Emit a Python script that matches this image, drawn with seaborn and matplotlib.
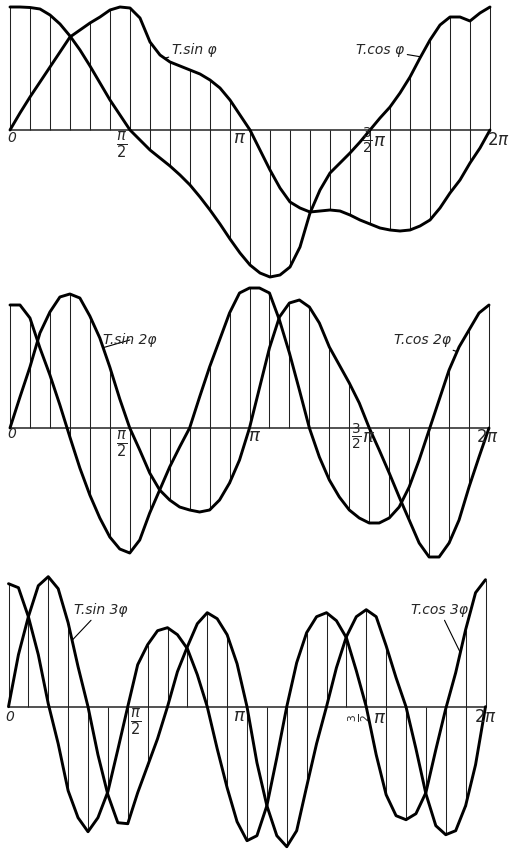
import numpy as np
import pandas as pd
import matplotlib
matplotlib.use("Agg")
import matplotlib.pyplot as plt
import seaborn as sns

# Crank angle of each ordinate (degrees), one every 7.5 degrees over a full turn
phi = np.arange(0, 361, 7.5)

# First harmonic: T.sin(phi) and T.cos(phi)
t_sin1 = [0, 17, 33, 48, 63, 78, 93, 100, 107, 113, 120, 123, 122, 112, 88, 75, 68,
          64, 60, 56, 50, 42, 30, 15, 0, -20, -40, -58, -72, -78, -82, -81, -80, -81,
          -85, -90, -94, -98, -100, -101, -100, -96, -90, -78, -63, -50, -33, -18, 0]
t_cos1 = [123, 123, 122.5, 121, 115, 106, 94, 80, 64, 47, 30, 15, 0, -10, -20, -28,
          -36, -45, -55, -67, -80, -94, -109, -123, -135, -143, -147, -145, -137, -117,
          -83, -60, -43, -33, -23, -12, 0, 12, 23, 37, 53, 72, 90, 105, 113, 113, 109,
          117, 123]

# Second harmonic: T.sin(2 phi) and T.cos(2 phi)
t_sin2 = [0, 31, 61, 95, 116, 131, 134, 130, 112, 90, 61, 29, 0, -22, -45, -62, -72,
          -79, -82, -84, -82, -72, -55, -32, 0, 40, 80, 111, 125, 128, 121, 105, 81, 63,
          45, 25, 0, -22, -45, -69, -92, -115, -129, -129, -115, -92, -59, -29, 0]
t_cos2 = [123, 123, 110, 80, 53, 23, -9, -40, -67, -90, -109, -121, -125, -112, -85,
          -62, -39, -19, 0, 31, 61, 88, 115, 135, 140, 140, 135, 108, 75, 38, 0, -29,
          -52, -69, -82, -90, -95, -95, -90, -79, -59, -32, -2, 28, 58, 81, 98, 115, 123]

# Third harmonic: T.sin(3 phi) and T.cos(3 phi)
t_sin3 = [0, 52, 90, 121, 130, 118, 84, 40, 0, -48, -88, -116, -117, -86, -59, -32, 0,
          35, 60, 83, 94, 88, 72, 43, 0, -56, -99, -129, -140, -124, -80, -37, 0, 39,
          70, 90, 97, 90, 61, 29, 0, -42, -87, -119, -128, -124, -99, -58, 0]
t_cos3 = [123, 119, 90, 52, 3, -37, -84, -111, -125, -111, -85, -43, 0, 42, 62, 76, 79,
          72, 58, 32, 0, -42, -81, -115, -134, -129, -99, -51, 0, 44, 74, 90, 94, 86,
          69, 36, 0, -48, -88, -109, -113, -107, -86, -43, -2, 34, 77, 114, 127]

sin_labels = ["T.sin φ", "T.sin 2φ", "T.sin 3φ"]
cos_labels = ["T.cos φ", "T.cos 2φ", "T.cos 3φ"]

sns.set_theme(style="white")
plt.rcParams["font.family"] = ["DejaVu Sans"]
plt.rcParams["mathtext.fontset"] = "dejavusans"

W, H = 511, 850
fig = plt.figure(figsize=(W / 100, H / 100), dpi=100)
fig.patch.set_facecolor("white")

# Panel frames in pixels: rows covered, x of 0 and 2pi, row of the zero line
frames = [
    dict(top=0, bottom=285, x0=10, x1=490, y0=130),
    dict(top=285, bottom=565, x0=10, x1=489, y0=428),
    dict(top=565, bottom=850, x0=8.5, x1=485.5, y0=706.7),
]
series = [(t_sin1, t_cos1), (t_sin2, t_cos2), (t_sin3, t_cos3)]

# Text placement (pixel positions) for each panel
sin_text = [(172, 50, 116), (103, 340, 70), (74, 610, 48)]
cos_text = [(404, 50, 308), (451, 340, 336), (468, 610, 341)]
tick_pos = [
    dict(zero=(12, 138), half=(122, 145), pi=(240, 138), three=(373, 141), two=(498, 140)),
    dict(zero=(12, 434), half=(122, 444), pi=(255, 436), three=(362, 437), two=(487, 437)),
    dict(zero=(10, 717), half=(136, 722), pi=(240, 716), three=(371, 718), two=(485, 717)),
]

for k, (fr, (s_vals, c_vals)) in enumerate(zip(frames, series)):
    ax = fig.add_axes([0, 1 - fr["bottom"] / H, 1, (fr["bottom"] - fr["top"]) / H])
    scale = 360.0 / (fr["x1"] - fr["x0"])
    ax.set_xlim(-fr["x0"] * scale, (W - fr["x0"]) * scale)
    ax.set_ylim(fr["y0"] - fr["bottom"], fr["y0"] - fr["top"])
    ax.axis("off")

    def to_data(px, py, fr=fr, scale=scale):
        return (px - fr["x0"]) * scale, fr["y0"] - py

    s = np.asarray(s_vals, dtype=float)
    c = np.asarray(c_vals, dtype=float)

    # ordinates every 15 degrees spanning both curves and the base line
    lo = np.minimum(0, np.minimum(s, c))
    hi = np.maximum(0, np.maximum(s, c))
    ax.vlines(phi[::2], lo[::2], hi[::2], color="#222222", lw=0.75, zorder=1)

    ax.hlines(0, 0, 360, color="#222222", lw=1.1, zorder=1)

    df = pd.DataFrame({"phi": phi, "sin": s, "cos": c})
    for col in ["sin", "cos"]:
        sns.lineplot(data=df, x="phi", y=col, ax=ax, color="black", lw=2.1,
                     solid_joinstyle="round", solid_capstyle="round", zorder=3)
    ax.set_xlabel("")
    ax.set_ylabel("")

    # curve labels with short leader strokes
    tx, ty, ang = sin_text[k]
    ax.annotate(sin_labels[k], xy=(ang, np.interp(ang, phi, s)), xytext=to_data(tx, ty),
                ha="left", va="center", fontsize=10, style="italic",
                arrowprops=dict(arrowstyle="-", lw=0.8, color="black",
                                shrinkA=0, shrinkB=0))
    tx, ty, ang = cos_text[k]
    ax.annotate(cos_labels[k], xy=(ang, np.interp(ang, phi, c)), xytext=to_data(tx, ty),
                ha="right", va="center", fontsize=10, style="italic",
                arrowprops=dict(arrowstyle="-", lw=0.8, color="black",
                                shrinkA=0, shrinkB=0))

    # angle marks along the base line
    tp = tick_pos[k]
    ax.text(*to_data(*tp["zero"]), "0", ha="center", va="center", fontsize=10,
            style="italic")
    ax.text(*to_data(*tp["half"]), r"$\frac{\pi}{2}$", ha="center", va="center",
            fontsize=15)
    ax.text(*to_data(*tp["pi"]), r"$\pi$", ha="center", va="center", fontsize=13)
    px, py = tp["three"]
    if k < 2:
        ax.text(*to_data(px - 6, py), r"$\frac{3}{2}$", ha="center", va="center",
                fontsize=14)
        ax.text(*to_data(px + 7, py), r"$\pi$", ha="center", va="center", fontsize=13)
    else:
        ax.text(*to_data(px - 12, py), r"$\frac{3}{2}$", ha="center", va="center",
                fontsize=11, rotation=90)
        ax.text(*to_data(px + 9, py), r"$\pi$", ha="center", va="center", fontsize=13)
    ax.text(*to_data(*tp["two"]), r"$2\pi$", ha="center", va="center", fontsize=12)

fig.savefig("out.png", dpi=100, facecolor="white")
